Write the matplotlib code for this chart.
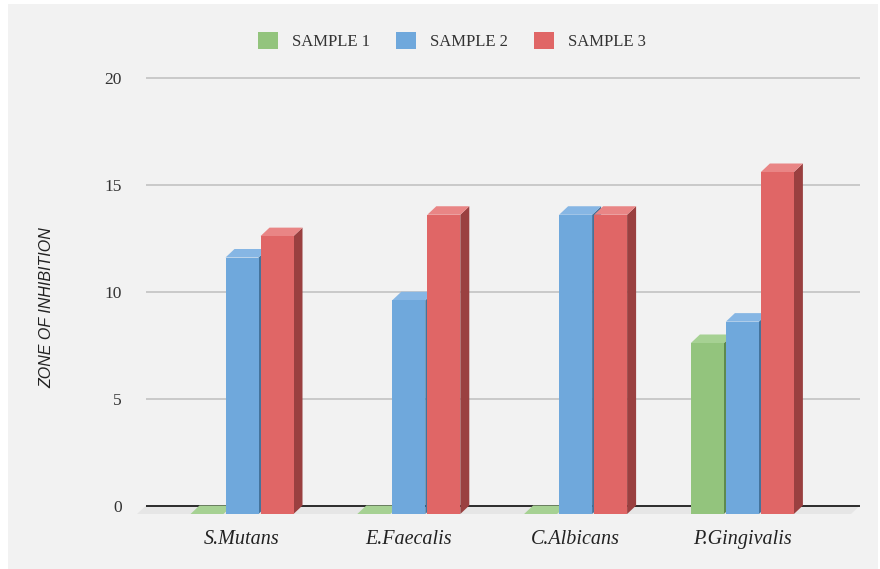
import matplotlib
matplotlib.use("Agg")
import matplotlib.pyplot as plt
from matplotlib.patches import Polygon, Patch

# ---- data -------------------------------------------------------------
organisms = ["S.Mutans", "E.Faecalis", "C.Albicans", "P.Gingivalis"]
series_names = ["SAMPLE 1", "SAMPLE 2", "SAMPLE 3"]
sample1 = [0, 0, 0, 8]
sample2 = [12, 10, 14, 9]
sample3 = [13, 14, 14, 16]
y_ticks = [0, 5, 10, 15, 20]
y_label = "ZONE OF INHIBITION"

# ---- style ------------------------------------------------------------
front_colors = ["#93c47d", "#6fa8dc", "#e06666"]
top_colors = ["#a6d193", "#86b6e4", "#e98585"]
side_colors = ["#5e8a4e", "#44739c", "#9a4040"]
bg = "#f2f2f2"
floor_color = "#e6e6e6"
grid_color = "#c6c6c6"

W, H = 880, 569
fig = plt.figure(figsize=(W / 100, H / 100), dpi=100)
fig.patch.set_facecolor("white")
# light panel behind the chart
fig.patches.append(plt.Rectangle((8 / W, 0), (W - 10) / W, (H - 4) / H,
                                 transform=fig.transFigure, facecolor=bg,
                                 edgecolor="none", zorder=-10))

# axes placement (pixels)
px_left, px_right = 130, 862
y0_px, y20_px = 505.5, 78.0
ppu = (y0_px - y20_px) / 20.0          # pixels per value unit
ymin, ymax = -0.8, 20.5
ax_bottom_px = y0_px - ymin * ppu
ax_top_px = y20_px - (ymax - 20) * ppu
ax = fig.add_axes([px_left / W, (H - ax_bottom_px) / H,
                   (px_right - px_left) / W, (ax_bottom_px - ax_top_px) / H])
ax.set_facecolor("none")

cat_step_px = 166.8
first_center_px = 242.0
xmin = (px_left - first_center_px) / cat_step_px
xmax = (px_right - first_center_px) / cat_step_px
ax.set_xlim(xmin, xmax)
ax.set_ylim(ymin, ymax)

# oblique depth of the 3-D look
dx = 9.0 / cat_step_px
dy = 8.5 / ppu
bar_w = 33.0 / cat_step_px
bar_step = 35.0 / cat_step_px

back_left = (146 - first_center_px) / cat_step_px
back_right = (860 - first_center_px) / cat_step_px

# floor
ax.add_patch(Polygon([(back_left, 0), (back_right, 0),
                      (back_right - dx, -dy), (back_left - dx, -dy)],
                     closed=True, facecolor=floor_color, edgecolor="none",
                     zorder=1))

# gridlines on the back wall and the zero line
for t in y_ticks:
    if t == 0:
        ax.plot([back_left, back_right], [0, 0], color="#2b2b2b", lw=1.4,
                zorder=2, solid_capstyle="butt")
    else:
        ax.plot([back_left, back_right], [t, t], color=grid_color, lw=1.3,
                zorder=2, solid_capstyle="butt")

series = [sample1, sample2, sample3]
z = 3
for ci in range(len(organisms)):
    for si, vals in enumerate(series):
        v = vals[ci]
        # front face sits on the front plane (shifted down by the depth)
        x0 = ci + (si - 1) * bar_step - bar_w / 2
        x1 = x0 + bar_w
        fb, ft = -dy, v - dy
        side = [(x1, fb), (x1 + dx, 0), (x1 + dx, v), (x1, ft)]
        top = [(x0, ft), (x1, ft), (x1 + dx, v), (x0 + dx, v)]
        front = [(x0, fb), (x1, fb), (x1, ft), (x0, ft)]
        if v > 0:
            ax.add_patch(Polygon(side, closed=True, facecolor=side_colors[si],
                                 edgecolor="none", zorder=z))
        ax.add_patch(Polygon(top, closed=True, facecolor=top_colors[si],
                             edgecolor="none", zorder=z))
        if v > 0:
            ax.add_patch(Polygon(front, closed=True, facecolor=front_colors[si],
                                 edgecolor="none", zorder=z))
        z += 1

# axes decoration
for s in ax.spines.values():
    s.set_visible(False)
ax.set_yticks(y_ticks)
ax.set_yticklabels([str(t) for t in y_ticks], family="Liberation Serif",
                   fontsize=12.5, color="#333333")
ax.tick_params(axis="y", length=0, pad=6)
ax.set_xticks(range(len(organisms)))
ax.set_xticklabels(organisms, family="Liberation Serif", style="italic",
                   fontsize=14.5, color="#222222")
ax.tick_params(axis="x", length=0, pad=5.5)

fig.text(47 / W, 1 - 308 / H, y_label, rotation=90, ha="center", va="center",
         family=["Liberation Sans Narrow", "Liberation Sans", "DejaVu Sans"],
         style="italic", fontsize=11.5, color="#222222")

handles = [Patch(facecolor=c, edgecolor="none") for c in front_colors]
leg = fig.legend(handles, series_names, loc="center",
                 bbox_to_anchor=(452 / W, 1 - 41 / H), ncol=3, frameon=False,
                 handlelength=1.2, handleheight=1.2, handletextpad=0.8,
                 columnspacing=1.6,
                 prop={"family": "Liberation Serif", "size": 12})
for t in leg.get_texts():
    t.set_color("#333333")

fig.savefig("out.png", dpi=100, facecolor=fig.get_facecolor())
